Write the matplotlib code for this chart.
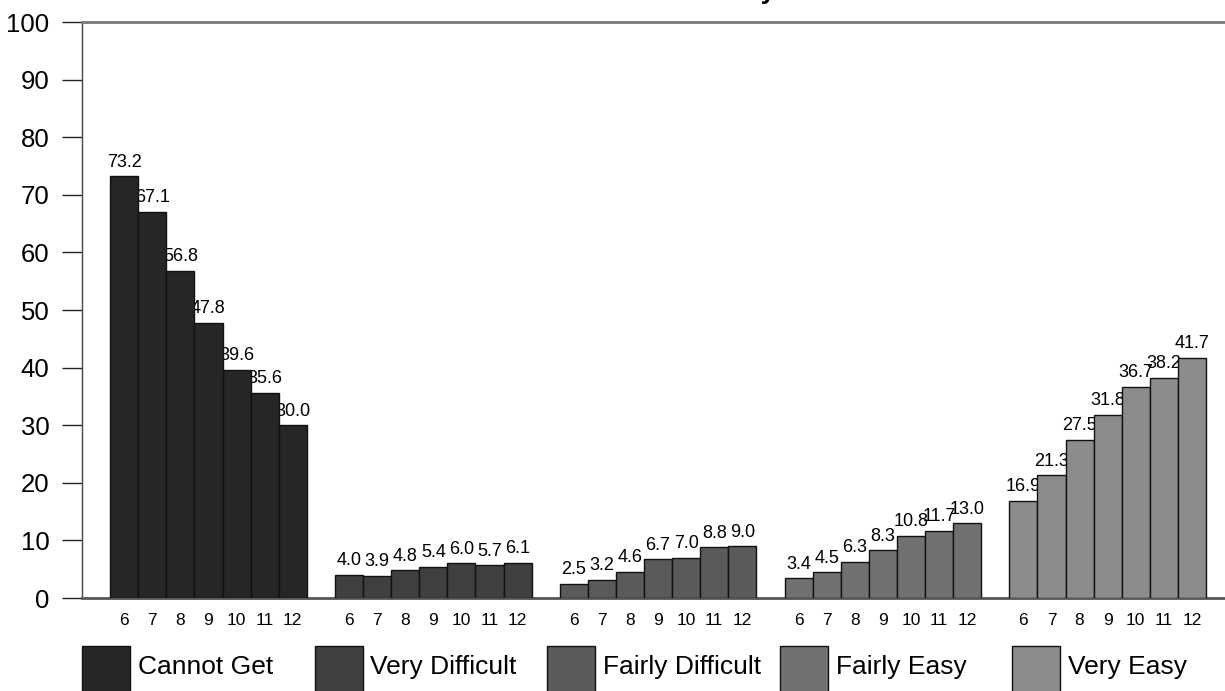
"""Grouped bars: how easy it is to get cigarettes, by grade (6-12)."""
import matplotlib
matplotlib.use("Agg")
import matplotlib.pyplot as plt
from matplotlib.patches import Rectangle

plt.rcParams["font.family"] = ["Liberation Sans", "DejaVu Sans"]

W, H = 1225, 691

categories = ["Cannot Get", "Very Difficult", "Fairly Difficult",
              "Fairly Easy", "Very Easy"]
grades = ["6", "7", "8", "9", "10", "11", "12"]
cannot_get = [73.2, 67.1, 56.8, 47.8, 39.6, 35.6, 30.0]
very_difficult = [4.0, 3.9, 4.8, 5.4, 6.0, 5.7, 6.1]
fairly_difficult = [2.5, 3.2, 4.6, 6.7, 7.0, 8.8, 9.0]
fairly_easy = [3.4, 4.5, 6.3, 8.3, 10.8, 11.7, 13.0]
very_easy = [16.9, 21.3, 27.5, 31.8, 36.7, 38.2, 41.7]
series = [cannot_get, very_difficult, fairly_difficult, fairly_easy, very_easy]
colors = ["#262626", "#404040", "#5a5a5a", "#717171", "#8c8c8c"]

fig = plt.figure(figsize=(W / 100, H / 100), dpi=100)
ax = fig.add_axes([82 / W, 93 / H, 1 - 82 / W, (598 - 22) / H])

xticks, xlabels = [], []
for g, (vals, col) in enumerate(zip(series, colors)):
    xs = [g * 8 + i + 1.5 for i in range(len(vals))]
    ax.bar(xs, vals, width=1.0, color=col, edgecolor="#111111",
           linewidth=1.0, zorder=3)
    for x, v in zip(xs, vals):
        ax.annotate(f"{v:.1f}", (x, v), xytext=(0, 4),
                    textcoords="offset points", ha="center", va="bottom",
                    fontsize=13, zorder=2)
    xticks += xs
    xlabels += grades

ax.set_xlim(0, (W - 82) / 28.1)
ax.set_ylim(0, 100)
ax.set_yticks(range(0, 101, 10))
ax.tick_params(axis="y", length=14.4, width=1, color="#222222",
               labelsize=18.5, pad=9)
ax.set_xticks(xticks)
ax.set_xticklabels(xlabels)
ax.tick_params(axis="x", length=0, labelsize=12.5, pad=11)

ax.spines["right"].set_visible(False)
ax.spines["left"].set_color("#444444")
ax.spines["left"].set_linewidth(1.0)
for s in ("top", "bottom"):
    ax.spines[s].set_color("#777777")
    ax.spines[s].set_linewidth(2.0)
ax.spines["bottom"].set_color("#555555")

# title sits above the visible frame; only a descender peeks in
fig.text(775 / W, 1 + 1 / H, "Perceived Availability", ha="right",
         va="baseline", fontsize=19, fontweight="bold")

# legend row
for i, (cat, col) in enumerate(zip(categories, colors)):
    x0 = 82 + i * 232.5
    fig.patches.append(Rectangle((x0 / W, -10 / H), 48 / W, (45 + 10) / H,
                                 transform=fig.transFigure,
                                 facecolor=col, edgecolor="#111111",
                                 linewidth=1.0))
    fig.text((x0 + 56) / W, 1 - 667 / H, cat, ha="left", va="center",
             fontsize=19)

fig.savefig("out.png", dpi=100)
